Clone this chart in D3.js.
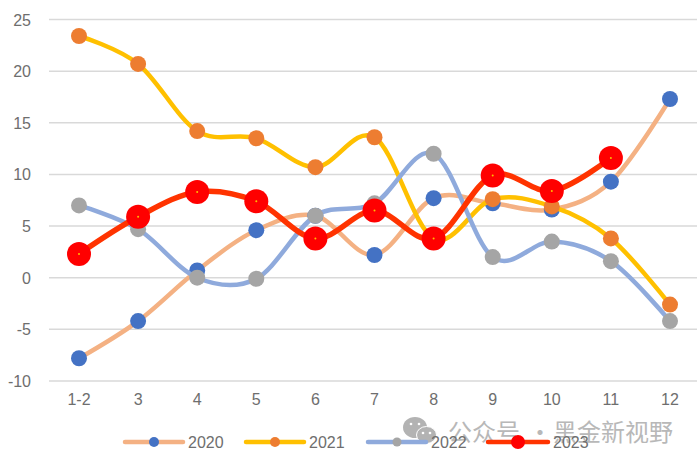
<!DOCTYPE html>
<html>
<head>
<meta charset="utf-8">
<script src="https://cdn.jsdelivr.net/npm/d3@7"></script>
<style>
  body { margin: 0; background: #fff; }
  text { font-family: "Liberation Sans", sans-serif; }
</style>
</head>
<body>
<svg id="chart" width="700" height="469"></svg>
<script>
const months = ["1-2", "3", "4", "5", "6", "7", "8", "9", "10", "11", "12"];
const yTicks = [-10, -5, 0, 5, 10, 15, 20, 25];

const values2020 = [-7.8, -4.2, 0.7, 4.6, 6.0, 2.2, 7.7, 7.2, 6.6, 9.3, 17.3];
const values2021 = [23.4, 20.7, 14.2, 13.5, 10.7, 13.6, 3.8, 7.6, 6.9, 3.8, -2.6];
const values2022 = [7.0, 4.7, 0.0, -0.1, 6.0, 7.2, 12.0, 2.0, 3.5, 1.6, -4.2];
const values2023 = [2.3, 5.9, 8.3, 7.4, 3.8, 6.5, 3.8, 9.9, 8.4, 11.6];

const seriesNames = ["2020", "2021", "2022", "2023"];
const seriesValues = [values2020, values2021, values2022, values2023];
const lineColors = ["#f4b183", "#ffc000", "#8faadc", "#ff3300"];
const dotColors = ["#4472c4", "#ed7d31", "#a5a5a5", "#ff0000"];
const lineWidths = [4.5, 4.5, 4.5, 5.5];
const dotRadius = [8, 8, 8, 12];

const svg = d3.select("#chart");

const x = d3.scalePoint().domain(months).range([79, 670]);
const y = d3.scaleLinear().domain([-10, 25]).range([381, 19.5]);

// gridlines
svg.append("g")
  .selectAll("line")
  .data(yTicks)
  .join("line")
  .attr("x1", 49)
  .attr("x2", 697)
  .attr("y1", d => y(d))
  .attr("y2", d => y(d))
  .attr("stroke", "#d9d9d9")
  .attr("stroke-width", 1.5);

// axis labels
svg.append("g")
  .selectAll("text")
  .data(yTicks)
  .join("text")
  .attr("x", 31)
  .attr("y", d => y(d) + 6)
  .attr("text-anchor", "end")
  .attr("font-size", 16)
  .attr("fill", "#6e6e6e")
  .text(d => d);

svg.append("g")
  .selectAll("text")
  .data(months)
  .join("text")
  .attr("x", d => x(d))
  .attr("y", 405)
  .attr("text-anchor", "middle")
  .attr("font-size", 16)
  .attr("fill", "#6e6e6e")
  .text(d => d);

const line = d3.line()
  .x((d, i) => x(months[i]))
  .y(d => y(d))
  .curve(d3.curveCatmullRom.alpha(0));

seriesValues.forEach((vals, idx) => {
  const g = svg.append("g");
  g.append("path")
    .attr("d", line(vals))
    .attr("fill", "none")
    .attr("stroke", lineColors[idx])
    .attr("stroke-width", lineWidths[idx])
    .attr("stroke-linecap", "round");
  g.selectAll("circle")
    .data(vals)
    .join("circle")
    .attr("cx", (d, i) => x(months[i]))
    .attr("cy", d => y(d))
    .attr("r", dotRadius[idx])
    .attr("fill", dotColors[idx]);
});

// small yellow centre on the 2023 markers
svg.append("g")
  .selectAll("circle")
  .data(values2023)
  .join("circle")
  .attr("cx", (d, i) => x(months[i]))
  .attr("cy", d => y(d))
  .attr("r", 1)
  .attr("fill", "#ffc000");

// watermark sits under the legend
const wm = svg.append("g");
wm.append("ellipse").attr("cx", 415).attr("cy", 427.5).attr("rx", 12).attr("ry", 10.5).attr("fill", "#b3b3b3");
wm.append("ellipse").attr("cx", 426.5).attr("cy", 435).attr("rx", 10).attr("ry", 8.5).attr("fill", "#b3b3b3").attr("stroke", "#fff").attr("stroke-width", 1);
[[411, 424], [419, 424], [423, 433], [430, 433]].forEach(p => {
  wm.append("circle").attr("cx", p[0]).attr("cy", p[1]).attr("r", 1.3).attr("fill", "#fff");
});
const wmText = wm.append("text")
  .attr("y", 441)
  .attr("font-size", 24)
  .attr("fill", "#b8b8b8")
  .style("font-family", '"Noto Sans CJK SC"');
wmText.append("tspan").attr("x", 448).text("公众号");
wmText.append("tspan").attr("x", 528).text("·");
wmText.append("tspan").attr("x", 553).text("黑金新视野");

// legend
const legendStart = [125, 246, 368, 488];
const legendEnd = [183, 304, 426, 548];
const legendRadius = [5, 5, 4.5, 7];
seriesNames.forEach((name, idx) => {
  const g = svg.append("g").attr("transform", `translate(${legendStart[idx]},442)`);
  const len = legendEnd[idx] - legendStart[idx];
  g.append("line")
    .attr("x1", 0)
    .attr("x2", len)
    .attr("stroke", lineColors[idx])
    .attr("stroke-width", 4.5)
    .attr("stroke-linecap", "round");
  g.append("circle")
    .attr("cx", len / 2)
    .attr("r", legendRadius[idx])
    .attr("fill", dotColors[idx]);
  g.append("text")
    .attr("x", len + 5)
    .attr("y", 6)
    .attr("font-size", 16)
    .attr("fill", "#6e6e6e")
    .text(name);
});
</script>
</body>
</html>
